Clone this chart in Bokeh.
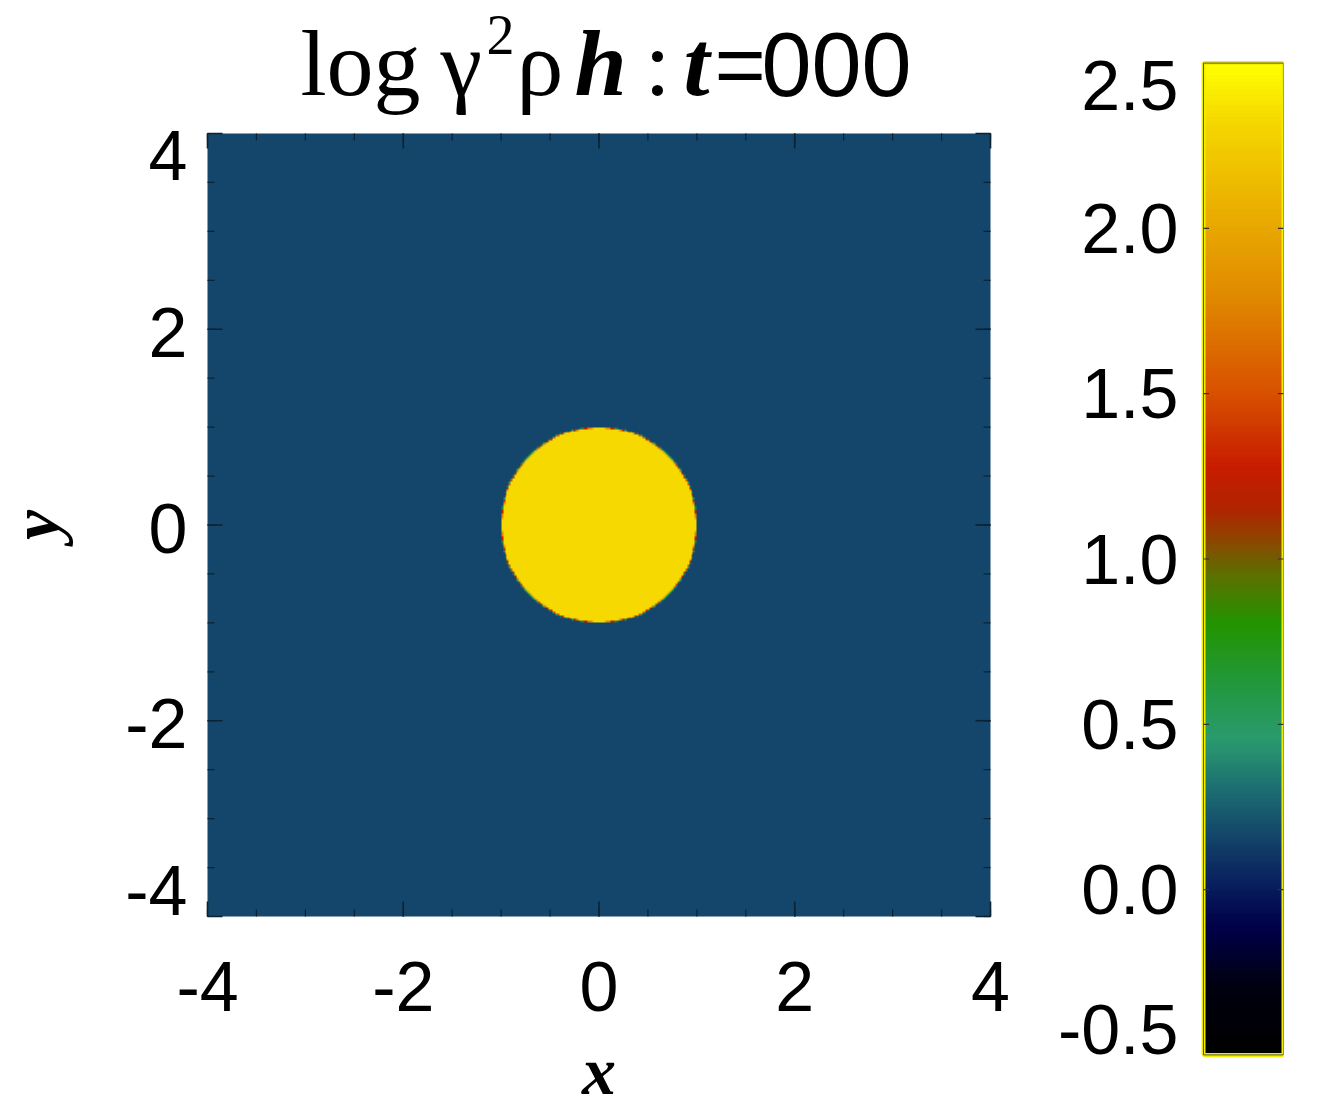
import numpy as np
from bokeh.plotting import figure
from bokeh.layouts import row, column
from bokeh.models import LinearColorMapper, Range1d
from bokeh.core.properties import value
from bokeh.embed import file_html
from bokeh.resources import INLINE

# ---------------- data ----------------
X_LIMITS = (-4.0, 4.0)
Y_LIMITS = (-4.0, 4.0)
AMBIENT_LEVEL = 0.16      # log(gamma^2 rho h) of the ambient medium
CLOUD_LEVEL = 2.33        # log(gamma^2 rho h) inside the cloud
CLOUD_CENTER = (0.0, 0.0)
CLOUD_RADIUS = 1.0
GRID_N = 400

AXIS_TICKS = [-4, -2, 0, 2, 4]
AXIS_LABELS = ["-4", "-2", "0", "2", "4"]
AXIS_MINOR_TICKS = [-4.0, -3.5, -3.0, -2.5, -2.0, -1.5, -1.0, -0.5, 0.0,
                    0.5, 1.0, 1.5, 2.0, 2.5, 3.0, 3.5, 4.0]

CB_LIMITS = (-0.5, 2.5)
CB_TICKS = [-0.5, 0.0, 0.5, 1.0, 1.5, 2.0, 2.5]
CB_LABELS = ["-0.5", "0.0", "0.5", "1.0", "1.5", "2.0", "2.5"]

# colour table anchors (value, colour)
CMAP_STOPS = [-0.5, -0.3, -0.12, 0.0, 0.16, 0.3, 0.45, 0.62, 0.8, 0.95,
              1.05, 1.15, 1.28, 1.5, 1.8, 2.15, 2.33, 2.5]
CMAP_COLORS = ["#000000", "#000010", "#000048", "#081c5c", "#13466a",
               "#1c6e72", "#2a9a6e", "#22983c", "#229400", "#5c7000",
               "#8a4800", "#b02400", "#c81c00", "#d85000", "#e08a00",
               "#eebc00", "#f5d800", "#ffff00"]

TITLE_PARTS = ["log", "\u03b3", "2", "\u03c1", "h", ":", "t", "=", "000"]
X_TITLE = "x"
Y_TITLE = "y"

# ---------------- colour map ----------------
def _rgb(h):
    return [int(h[i:i + 2], 16) for i in (1, 3, 5)]

rgb = np.array([_rgb(c) for c in CMAP_COLORS], dtype=float)
vals = np.linspace(CB_LIMITS[0], CB_LIMITS[1], 256)
palette = []
for v in vals:
    r = np.interp(v, CMAP_STOPS, rgb[:, 0])
    g = np.interp(v, CMAP_STOPS, rgb[:, 1])
    b = np.interp(v, CMAP_STOPS, rgb[:, 2])
    palette.append("#%02x%02x%02x" % (int(round(r)), int(round(g)), int(round(b))))
mapper = LinearColorMapper(palette=palette, low=CB_LIMITS[0], high=CB_LIMITS[1])

# ---------------- field ----------------
sub = 4
span_x = X_LIMITS[1] - X_LIMITS[0]
span_y = Y_LIMITS[1] - Y_LIMITS[0]
n = GRID_N * sub
xs = X_LIMITS[0] + (np.arange(n) + 0.5) * span_x / n
ys = Y_LIMITS[0] + (np.arange(n) + 0.5) * span_y / n
XX, YY = np.meshgrid(xs, ys)
inside = (((XX - CLOUD_CENTER[0]) ** 2 + (YY - CLOUD_CENTER[1]) ** 2)
          <= CLOUD_RADIUS ** 2).astype(float)
frac = inside.reshape(GRID_N, sub, GRID_N, sub).mean(axis=(1, 3))
field = AMBIENT_LEVEL + (CLOUD_LEVEL - AMBIENT_LEVEL) * frac

# ---------------- layout constants (pixels) ----------------
FRAME = 783                           # size of the data panel
LEFT, TOP, RIGHT, BOTTOM = 207, 133, 25, 182
U = FRAME / span_x                    # pixels per data unit


def px(d):
    return d / U


# The figure's frame covers the whole canvas; the data panel is the [-4,4] box.
p = figure(frame_width=LEFT + FRAME + RIGHT, frame_height=TOP + FRAME + BOTTOM,
           x_range=Range1d(X_LIMITS[0] - px(LEFT), X_LIMITS[1] + px(RIGHT)),
           y_range=Range1d(Y_LIMITS[0] - px(BOTTOM), Y_LIMITS[1] + px(TOP)),
           min_border=0, x_axis_location=None, y_axis_location=None,
           output_backend="svg", toolbar_location=None)
p.outline_line_color = None
for g in p.xgrid + p.ygrid:
    g.visible = False
p.image(image=[field], x=X_LIMITS[0], y=Y_LIMITS[0], dw=span_x, dh=span_y,
        color_mapper=mapper)

# inward ticks on all four sides
TICK_COLOR = "#0b2233"
lo_x, hi_x = X_LIMITS
lo_y, hi_y = Y_LIMITS
for ticks, length, lw in ((AXIS_MINOR_TICKS, px(7), 1.2), (AXIS_TICKS, px(15), 1.6)):
    k = len(ticks)
    p.segment(x0=ticks, x1=ticks, y0=[lo_y] * k, y1=[lo_y + length] * k,
              line_color=TICK_COLOR, line_width=lw)
    p.segment(x0=ticks, x1=ticks, y0=[hi_y] * k, y1=[hi_y - length] * k,
              line_color=TICK_COLOR, line_width=lw)
    p.segment(x0=[lo_x] * k, x1=[lo_x + length] * k, y0=ticks, y1=ticks,
              line_color=TICK_COLOR, line_width=lw)
    p.segment(x0=[hi_x] * k, x1=[hi_x - length] * k, y0=ticks, y1=ticks,
              line_color=TICK_COLOR, line_width=lw)

SANS = value("Liberation Sans")
SERIF = value("Liberation Serif")
TICK_SIZE = "70px"

# x tick labels
p.text(x=AXIS_TICKS, y=[lo_y - px(70)] * len(AXIS_TICKS), text=AXIS_LABELS,
       text_font=SANS, text_font_size=TICK_SIZE, text_align="center",
       text_baseline="middle", text_color="black")
# y tick labels (end labels pulled inside the panel's span)
y_pos = []
for i, tv in enumerate(AXIS_TICKS):
    if i == len(AXIS_TICKS) - 1:
        y_pos.append(tv - px(22))
    elif i == 0:
        y_pos.append(tv + px(26))
    else:
        y_pos.append(tv - px(3))
p.text(x=[lo_x - px(20)] * len(AXIS_TICKS), y=y_pos, text=AXIS_LABELS,
       text_font=SANS, text_font_size=TICK_SIZE, text_align="right",
       text_baseline="middle", text_color="black")

# axis titles
p.text(x=[0.0], y=[lo_y - px(154)], text=[X_TITLE], text_font=SERIF,
       text_font_style="bold italic", text_font_size="68px", text_align="center",
       text_baseline="middle", text_color="black")
p.text(x=[lo_x - px(172)], y=[0.0], text=[Y_TITLE], angle=np.pi / 2,
       text_font=SERIF, text_font_style="bold italic", text_font_size="68px",
       text_align="center", text_baseline="middle", text_color="black")

# title pieces: (page x, page y of glyph line, font, style, size)
specs = [
    (300, 62, SERIF, "normal", "94px"),
    (440, 62, SERIF, "normal", "94px"),
    (486, 34, SERIF, "normal", "56px"),
    (516, 62, SERIF, "normal", "94px"),
    (574, 62, SERIF, "bold italic", "94px"),
    (644, 62, SERIF, "normal", "94px"),
    (683, 62, SERIF, "bold italic", "94px"),
    (714, 64, SANS, "normal", "88px"),
    (761, 64, SANS, "normal", "90px"),
]
for txt, (x, y, f, st, sz) in zip(TITLE_PARTS, specs):
    p.text(x=[lo_x + px(x - LEFT)], y=[hi_y + px(TOP - y)], text=[txt],
           text_font=f, text_font_style=st, text_font_size=sz,
           text_color="black", text_align="left", text_baseline="alphabetic")

# ---------------- colour bar figure ----------------
BAR_PX = 80
c = figure(frame_width=244, frame_height=1005,
           x_range=Range1d(-2.05, 1.0), y_range=Range1d(-0.52, 2.52),
           min_border_left=24, min_border_right=15, min_border_top=56,
           min_border_bottom=10, x_axis_location=None, y_axis_location=None,
           output_backend="svg", toolbar_location=None)
c.outline_line_color = None
for g in c.xgrid + c.ygrid:
    g.visible = False

grad = np.linspace(CB_LIMITS[0], CB_LIMITS[1], 600).reshape(-1, 1)
c.image(image=[grad], x=0, y=CB_LIMITS[0], dw=1, dh=CB_LIMITS[1] - CB_LIMITS[0],
        color_mapper=mapper)
c.quad(left=[0], right=[1], bottom=[CB_LIMITS[0]], top=[CB_LIMITS[1]],
       fill_color=None, line_color="#f2ee00", line_width=4)
c.quad(left=[0], right=[1], bottom=[CB_LIMITS[0]], top=[CB_LIMITS[1]],
       fill_color=None, line_color="#555533", line_width=1)

inner = CB_TICKS[1:-1]
c.segment(x0=[0] * len(inner), x1=[0.07] * len(inner), y0=inner, y1=inner,
          line_color="#333333", line_width=1.2)
c.segment(x0=[0.93] * len(inner), x1=[1] * len(inner), y0=inner, y1=inner,
          line_color="#333333", line_width=1.2)

lab_x = -25 / BAR_PX
c.text(x=[lab_x] * len(inner), y=inner, text=CB_LABELS[1:-1], text_font=SANS,
       text_font_size=TICK_SIZE, text_align="right", text_baseline="middle",
       text_color="black")
c.text(x=[lab_x], y=[CB_TICKS[-1]], text=[CB_LABELS[-1]], text_font=SANS,
       text_font_size=TICK_SIZE, text_align="right", text_baseline="middle",
       text_color="black", y_offset=22)
c.text(x=[lab_x], y=[CB_TICKS[0]], text=[CB_LABELS[0]], text_font=SANS,
       text_font_size=TICK_SIZE, text_align="right", text_baseline="middle",
       text_color="black", y_offset=-25)

layout = row(column(p), c, spacing=0)
open("out.html", "w").write(file_html(layout, INLINE))
